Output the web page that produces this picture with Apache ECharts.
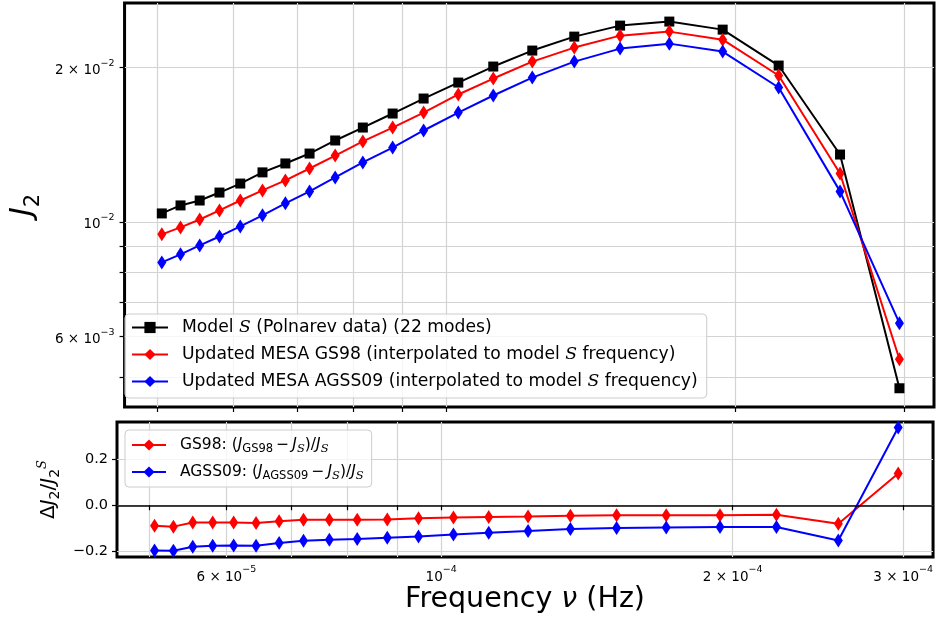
<!DOCTYPE html>
<html><head><meta charset="utf-8">
<script src="https://cdn.jsdelivr.net/npm/echarts@6/dist/echarts.min.js"></script>
<style>html,body{margin:0;padding:0;background:#fff}#c{width:936px;height:623px}</style>
</head><body><div id="c"></div>
<script>
// ---- data ----
const freq = [5.058e-5, 5.290e-5, 5.539e-5, 5.808e-5, 6.105e-5, 6.439e-5, 6.802e-5, 7.208e-5, 7.665e-5, 8.190e-5, 8.797e-5, 9.475e-5, 1.0296e-4, 1.1197e-4, 1.2295e-4, 1.3597e-4, 1.5176e-4, 1.7077e-4, 1.9407e-4, 2.2195e-4, 2.5713e-4, 2.9648e-4];
const jModelS = [1.041e-2, 1.079e-2, 1.103e-2, 1.143e-2, 1.190e-2, 1.251e-2, 1.302e-2, 1.361e-2, 1.443e-2, 1.529e-2, 1.628e-2, 1.741e-2, 1.870e-2, 2.009e-2, 2.158e-2, 2.297e-2, 2.413e-2, 2.457e-2, 2.370e-2, 2.018e-2, 1.355e-2, 4.76e-3];
const jGS98 = [9.48e-3, 9.78e-3, 1.013e-2, 1.055e-2, 1.103e-2, 1.154e-2, 1.207e-2, 1.273e-2, 1.349e-2, 1.437e-2, 1.529e-2, 1.635e-2, 1.773e-2, 1.904e-2, 2.054e-2, 2.187e-2, 2.307e-2, 2.349e-2, 2.266e-2, 1.930e-2, 1.245e-2, 5.42e-3];
const jAGSS09 = [8.36e-3, 8.67e-3, 9.02e-3, 9.39e-3, 9.82e-3, 1.032e-2, 1.089e-2, 1.149e-2, 1.223e-2, 1.308e-2, 1.398e-2, 1.509e-2, 1.635e-2, 1.765e-2, 1.912e-2, 2.054e-2, 2.177e-2, 2.226e-2, 2.148e-2, 1.829e-2, 1.149e-2, 6.37e-3];
const dGS98 = [-0.089, -0.093, -0.075, -0.075, -0.075, -0.077, -0.070, -0.063, -0.063, -0.063, -0.062, -0.057, -0.053, -0.051, -0.049, -0.046, -0.044, -0.043, -0.043, -0.041, -0.080, 0.138];
const dAGSS09 = [-0.197, -0.198, -0.180, -0.176, -0.175, -0.176, -0.164, -0.154, -0.150, -0.147, -0.141, -0.136, -0.127, -0.120, -0.112, -0.103, -0.099, -0.097, -0.095, -0.095, -0.153, 0.338];

// ---- ticks ----
const xTickValues = [5e-5, 6e-5, 7e-5, 8e-5, 9e-5, 1e-4, 2e-4, 3e-4];
const xLabelValues = [6e-5, 1e-4, 2e-4, 3e-4];
const xLabelTexts = ['6 × 10^−5', '10^−4', '2 × 10^−4', '3 × 10^−4'];
const yTopTickValues = [5e-3, 6e-3, 7e-3, 8e-3, 9e-3, 1e-2, 2e-2];
const yTopLabelValues = [6e-3, 1e-2, 2e-2];
const yTopLabelTexts = ['6 × 10^−3', '10^−2', '2 × 10^−2'];
const yBotTickValues = [-0.2, 0.0, 0.2];
const yBotLabelTexts = ['−0.2', '0.0', '0.2'];

// axis ranges (frequency in Hz, J2)
const xRange = [4.626e-5, 3.221e-4];
const yTopRange = [4.377e-3, 2.670e-2];
const yBotRange = [-0.225, 0.362];

const L = Math.log10;
const FONT = 'DejaVu Sans';

function toRich(s) {
  const p = s.split('^');
  return '{b|' + p[0] + '}{s|' + p[1] + '}';
}
function lookup(vals, texts, v, tr) {
  for (let i = 0; i < vals.length; i++) if (Math.abs(tr(vals[i]) - v) < 1e-6) return texts[i];
  return '';
}
const tickRich = {
  b: {fontFamily: FONT, fontSize: 13.5, color: '#000', lineHeight: 19, verticalAlign: 'bottom'},
  s: {fontFamily: FONT, fontSize: 9.5, color: '#000', lineHeight: 11, verticalAlign: 'top'}
};
const gridLine = {show: true, lineStyle: {color: '#d3d3d3', width: 1.2}};
const tick = {show: true, length: 5, lineStyle: {color: '#000', width: 1.2}};

const option = {
  animation: false,
  backgroundColor: '#fff',
  grid: [
    {left: 117, top: 3, width: 817, height: 404, show: true, borderColor: '#000', borderWidth: 3, backgroundColor: 'transparent'},
    {left: 117, top: 422, width: 817, height: 135, show: true, borderColor: '#000', borderWidth: 3, backgroundColor: 'transparent'}
  ],
  xAxis: [
    {type: 'value', gridIndex: 0, min: L(xRange[0]), max: L(xRange[1]),
     axisLine: {show: false},
     axisTick: Object.assign({}, tick, {customValues: xTickValues.map(L)}),
     axisLabel: {show: false},
     splitLine: gridLine},
    {type: 'value', gridIndex: 1, min: L(xRange[0]), max: L(xRange[1]),
     axisLine: {show: false},
     axisTick: Object.assign({}, tick, {customValues: xTickValues.map(L)}),
     axisLabel: {show: true, margin: 8, customValues: xLabelValues.map(L),
       formatter: v => toRich(lookup(xLabelValues, xLabelTexts, v, L)), rich: tickRich},
     splitLine: gridLine,
     name: '{t|Frequency }{g|ν}{t| (Hz)}', nameLocation: 'middle', nameGap: 23,
     nameTextStyle: {rich: {
       t: {fontFamily: FONT, fontSize: 28.5, color: '#000', lineHeight: 32},
       g: {fontFamily: FONT, fontSize: 28.5, fontStyle: 'italic', color: '#000', lineHeight: 32}}}}
  ],
  yAxis: [
    {type: 'value', gridIndex: 0, min: L(yTopRange[0]), max: L(yTopRange[1]),
     axisLine: {show: false},
     axisTick: Object.assign({}, tick, {customValues: yTopTickValues.map(L)}),
     axisLabel: {show: true, margin: 10, customValues: yTopLabelValues.map(L),
       formatter: v => toRich(lookup(yTopLabelValues, yTopLabelTexts, v, L)), rich: tickRich},
     splitLine: gridLine,
     name: '{j|J}{s|2}', nameLocation: 'middle', nameRotate: 90, nameGap: 76,
     nameTextStyle: {rich: {
       j: {fontFamily: FONT, fontSize: 30, fontStyle: 'italic', color: '#000', lineHeight: 36, verticalAlign: 'top'},
       s: {fontFamily: FONT, fontSize: 21, color: '#000', lineHeight: 22, verticalAlign: 'bottom'}}}},
    {type: 'value', gridIndex: 1, min: yBotRange[0], max: yBotRange[1],
     axisLine: {show: false},
     axisTick: Object.assign({}, tick, {customValues: yBotTickValues}),
     axisLabel: {show: true, margin: 9, customValues: yBotTickValues,
       formatter: v => lookup(yBotTickValues, yBotLabelTexts, v, x => x),
       fontFamily: FONT, fontSize: 14.5, color: '#000'},
     splitLine: gridLine,
     name: '{n|Δ}{j|J}{s|2}{n|/}{j|J}{s|2}{p|S}', nameLocation: 'middle', nameRotate: 90, nameGap: 44,
     nameTextStyle: {rich: {
       n: {fontFamily: FONT, fontSize: 20, color: '#000', lineHeight: 26, verticalAlign: 'middle'},
       j: {fontFamily: FONT, fontSize: 20, fontStyle: 'italic', color: '#000', lineHeight: 26, verticalAlign: 'middle'},
       s: {fontFamily: FONT, fontSize: 14, color: '#000', lineHeight: 14, verticalAlign: 'bottom'},
       p: {fontFamily: 'DejaVu Serif', fontStyle: 'italic', fontSize: 13, color: '#000', lineHeight: 13, verticalAlign: 'top'}}}}
  ],
  legend: [
    {data: ['Model S', 'Updated GS98', 'Updated AGSS09'], orient: 'vertical', left: 125, top: 314,
     padding: [4, 9, 7, 6], itemGap: 8, itemWidth: 36, itemHeight: 14,
     backgroundColor: 'rgba(255,255,255,0.8)', borderColor: '#cccccc', borderWidth: 1, borderRadius: 4,
     formatter: n => ({
       'Model S': 'Model {s|S} (Polnarev data) (22 modes)',
       'Updated GS98': 'Updated MESA GS98 (interpolated to model {s|S} frequency)',
       'Updated AGSS09': 'Updated MESA AGSS09 (interpolated to model {s|S} frequency)'})[n],
     textStyle: {fontFamily: FONT, fontSize: 17.2, color: '#000', lineHeight: 19, padding: [0, 0, 0, 9],
       rich: {s: {fontFamily: 'DejaVu Serif', fontStyle: 'italic', fontSize: 17.2, color: '#000', lineHeight: 19}}}},
    {data: ['GS98 resid', 'AGSS09 resid'], orient: 'vertical', left: 125, top: 430,
     padding: [5, 8, 5, 6], itemGap: 7, itemWidth: 34, itemHeight: 14,
     backgroundColor: 'rgba(255,255,255,0.8)', borderColor: '#cccccc', borderWidth: 1, borderRadius: 4,
     formatter: n => ({
       'GS98 resid': 'GS98: ({j|J}{u|GS98}\u2009−\u2009{j|J}{c|S}){n|/}{j|J}{c|S}',
       'AGSS09 resid': 'AGSS09: ({j|J}{u|AGSS09}\u2009−\u2009{j|J}{c|S}){n|/}{j|J}{c|S}'})[n],
     textStyle: {fontFamily: FONT, fontSize: 15.5, color: '#000', lineHeight: 20, padding: [0, 0, 0, 9],
       rich: {
         j: {fontFamily: FONT, fontStyle: 'italic', fontSize: 15.5, color: '#000', lineHeight: 20},
         n: {fontFamily: FONT, fontSize: 15.5, color: '#000', lineHeight: 20},
         u: {fontFamily: FONT, fontSize: 11.5, color: '#000', lineHeight: 14, verticalAlign: 'bottom'},
         c: {fontFamily: 'DejaVu Serif', fontStyle: 'italic', fontSize: 11.5, color: '#000', lineHeight: 14, verticalAlign: 'bottom'}}}}
  ],
  series: [
    {name: 'Model S', type: 'line', xAxisIndex: 0, yAxisIndex: 0,
     data: freq.map((f, i) => [L(f), L(jModelS[i])]),
     symbol: 'rect', symbolSize: 10, color: '#000',
     lineStyle: {color: '#000', width: 2}, itemStyle: {color: '#000'}, z: 4},
    {name: 'Updated GS98', type: 'line', xAxisIndex: 0, yAxisIndex: 0,
     data: freq.map((f, i) => [L(f), L(jGS98[i])]),
     symbol: 'diamond', symbolSize: [9, 14], color: '#ff0000',
     lineStyle: {color: '#ff0000', width: 2}, itemStyle: {color: '#ff0000'}, z: 4},
    {name: 'Updated AGSS09', type: 'line', xAxisIndex: 0, yAxisIndex: 0,
     data: freq.map((f, i) => [L(f), L(jAGSS09[i])]),
     symbol: 'diamond', symbolSize: [9, 14], color: '#0000ff',
     lineStyle: {color: '#0000ff', width: 2}, itemStyle: {color: '#0000ff'}, z: 4},
    {name: 'GS98 resid', type: 'line', xAxisIndex: 1, yAxisIndex: 1,
     data: freq.map((f, i) => [L(f), dGS98[i]]),
     symbol: 'diamond', symbolSize: [9, 14], color: '#ff0000',
     lineStyle: {color: '#ff0000', width: 2}, itemStyle: {color: '#ff0000'}, z: 4,
     markLine: {silent: true, symbol: 'none', label: {show: false},
       lineStyle: {color: '#000', width: 1.5, type: 'solid'}, data: [{yAxis: 0}]}},
    {name: 'AGSS09 resid', type: 'line', xAxisIndex: 1, yAxisIndex: 1,
     data: freq.map((f, i) => [L(f), dAGSS09[i]]),
     symbol: 'diamond', symbolSize: [9, 14], color: '#0000ff',
     lineStyle: {color: '#0000ff', width: 2}, itemStyle: {color: '#0000ff'}, z: 4}
  ]
};
const chart = echarts.init(document.getElementById('c'), null, {renderer: 'canvas'});
chart.setOption(option);
</script></body></html>
